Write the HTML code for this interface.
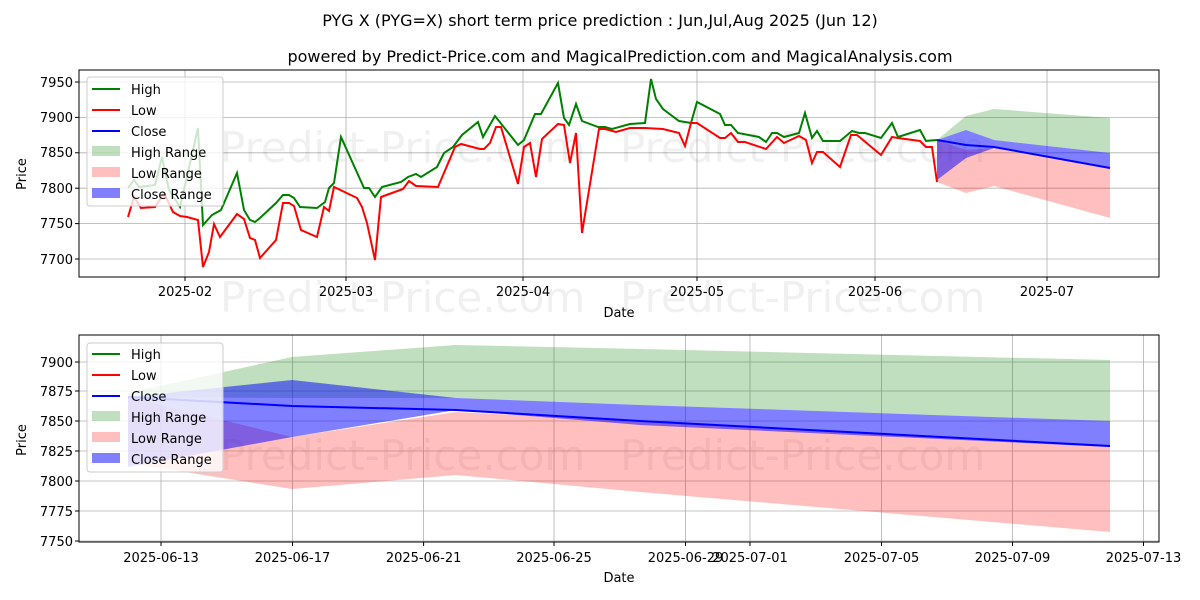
<!DOCTYPE html>
<html><head><meta charset="utf-8"><style>
html,body{margin:0;padding:0;background:#fff;}
svg{display:block;font-family:"DejaVu Sans","Liberation Sans",sans-serif;}
</style></head><body>
<svg width="1200" height="600" viewBox="0 0 1200 600" xmlns="http://www.w3.org/2000/svg">
<rect width="1200" height="600" fill="#fff"/>
<text x="600" y="26" font-size="16" text-anchor="middle">PYG X (PYG=X) short term price prediction : Jun,Jul,Aug 2025 (Jun 12)</text>
<text x="620" y="62" font-size="16" text-anchor="middle">powered by Predict-Price.com and MagicalPrediction.com and MagicalAnalysis.com</text>

<!-- TOP CHART -->
<g stroke="#b0b0b0" stroke-width="0.8">
<line x1="185" y1="70" x2="185" y2="277"/><line x1="346" y1="70" x2="346" y2="277"/><line x1="523" y1="70" x2="523" y2="277"/><line x1="697" y1="70" x2="697" y2="277"/><line x1="875" y1="70" x2="875" y2="277"/><line x1="1047" y1="70" x2="1047" y2="277"/>
<line x1="79" y1="82" x2="1159" y2="82"/><line x1="79" y1="117.4" x2="1159" y2="117.4"/><line x1="79" y1="152.8" x2="1159" y2="152.8"/><line x1="79" y1="188.2" x2="1159" y2="188.2"/><line x1="79" y1="223.6" x2="1159" y2="223.6"/><line x1="79" y1="259" x2="1159" y2="259"/>
</g>
<g fill="#000" fill-opacity="0.06" font-size="42">
<text x="220" y="162">Predict-Price.com</text><text x="620" y="162">Predict-Price.com</text>
<text x="220" y="312">Predict-Price.com</text><text x="620" y="312">Predict-Price.com</text>
<text x="220" y="470">Predict-Price.com</text><text x="620" y="470">Predict-Price.com</text>
</g>
<polyline fill="none" stroke="#008000" stroke-width="2" points="128,188 134,180 139,187 155,185 162,157 169,190 180,207 198,128 203,225 212,215 221,210 237,173 244,210 250,220 255,222 260,218 276,203 283,195 289,195 294,198 300,207 317,208 325,202 329,188 334,183 341,137 364,188 369,188 375,197 382,187 401,182 408,177 416,174 421,177 437,167 444,153 453,147 462,135 478,122 483,137 495,116 518,145 524,140 535,114 541,114 558,83 564,118 569,125 576,104 582,121 598,127 605,127 612,129 630,124 645,123 651,79 656,99 663,109 679,121 691,123 697,102 720,114 725,125 731,125 738,133 759,137 766,142 772,133 777,133 784,137 799,133 805,113 812,138 817,131 823,141 840,141 852,131 859,133 865,133 881,138 892,123 898,137 920,130 926,141 937,140"/>
<polyline fill="none" stroke="#ff0000" stroke-width="2" points="128,217 134,197 141,208 155,207 164,193 173,212 180,216 187,217 198,220 203,267 209,252 214,224 220,237 237,214 244,219 250,238 255,240 260,258 276,240 283,203 289,203 294,206 301,230 317,237 324,207 329,211 334,187 357,198 362,207 367,223 375,260 381,197 403,189 409,181 416,186 438,187 455,147 461,144 480,149 484,149 490,143 496,127 501,127 518,184 524,147 530,143 536,177 542,139 558,124 564,125 570,163 576,133 582,233 599,129 605,129 616,132 630,128 645,128 663,129 679,133 685,146 691,123 697,123 720,138 725,138 731,133 738,142 745,142 766,149 777,137 784,143 799,136 806,140 812,163 817,152 823,152 840,167 851,135 857,135 881,155 892,137 898,138 920,141 926,147 932,147 937,182"/>
<polygon fill="#008000" fill-opacity="0.25" points="937,140 966,116 994,109 1110,118 1110,153 994,140 966,130"/>
<polygon fill="#ff0000" fill-opacity="0.25" points="937,140 966,150 994,148 1110,168 1110,218 994,186 966,193 937,182"/>
<polygon fill="#0000ff" fill-opacity="0.5" points="937,140 966,130 994,140 1110,153 1110,168 994,148 966,158 937,180"/>
<polyline fill="none" stroke="#0000ff" stroke-width="2" points="937,140 966,145 994,147 1110,168"/>
<rect x="79" y="70" width="1080" height="207" fill="none" stroke="#000" stroke-width="1"/>
<g font-size="13" text-anchor="end">
<text x="73" y="87">7950</text><text x="73" y="122">7900</text><text x="73" y="157">7850</text><text x="73" y="193">7800</text><text x="73" y="228">7750</text><text x="73" y="264">7700</text>
</g>
<g stroke="#000"><line x1="75" y1="82" x2="79" y2="82"/><line x1="75" y1="117.4" x2="79" y2="117.4"/><line x1="75" y1="152.8" x2="79" y2="152.8"/><line x1="75" y1="188.2" x2="79" y2="188.2"/><line x1="75" y1="223.6" x2="79" y2="223.6"/><line x1="75" y1="259" x2="79" y2="259"/>
<line x1="185" y1="277" x2="185" y2="281"/><line x1="346" y1="277" x2="346" y2="281"/><line x1="523" y1="277" x2="523" y2="281"/><line x1="697" y1="277" x2="697" y2="281"/><line x1="875" y1="277" x2="875" y2="281"/><line x1="1047" y1="277" x2="1047" y2="281"/></g>
<g font-size="13" text-anchor="middle">
<text x="185" y="296">2025-02</text><text x="346" y="296">2025-03</text><text x="523" y="296">2025-04</text><text x="697" y="296">2025-05</text><text x="875" y="296">2025-06</text><text x="1047" y="296">2025-07</text>
<text x="619" y="317">Date</text>
</g>
<text font-size="13" text-anchor="middle" transform="translate(26,174) rotate(-90)">Price</text>
<g>
<rect x="87" y="77" width="136" height="129" rx="3" fill="#fff" fill-opacity="0.8" stroke="#ccc"/>
<line x1="92" y1="89" x2="120" y2="89" stroke="#008000" stroke-width="2"/>
<line x1="92" y1="110" x2="120" y2="110" stroke="#ff0000" stroke-width="2"/>
<line x1="92" y1="131" x2="120" y2="131" stroke="#0000ff" stroke-width="2"/>
<rect x="92" y="146" width="28" height="10" fill="#008000" fill-opacity="0.25"/>
<rect x="92" y="167" width="28" height="10" fill="#ff0000" fill-opacity="0.25"/>
<rect x="92" y="188" width="28" height="10" fill="#0000ff" fill-opacity="0.5"/>
<g font-size="13"><text x="131" y="94">High</text><text x="131" y="115">Low</text><text x="131" y="136">Close</text><text x="131" y="157">High Range</text><text x="131" y="178">Low Range</text><text x="131" y="199">Close Range</text></g>
</g>

<!-- BOTTOM CHART -->
<g stroke="#b0b0b0" stroke-width="0.8">
<line x1="161" y1="335" x2="161" y2="542"/><line x1="292.5" y1="335" x2="292.5" y2="542"/><line x1="423.6" y1="335" x2="423.6" y2="542"/><line x1="554" y1="335" x2="554" y2="542"/><line x1="685.5" y1="335" x2="685.5" y2="542"/><line x1="750" y1="335" x2="750" y2="542"/><line x1="881.5" y1="335" x2="881.5" y2="542"/><line x1="1012.5" y1="335" x2="1012.5" y2="542"/><line x1="1143.5" y1="335" x2="1143.5" y2="542"/>
<line x1="79" y1="362" x2="1159" y2="362"/><line x1="79" y1="391" x2="1159" y2="391"/><line x1="79" y1="421" x2="1159" y2="421"/><line x1="79" y1="451" x2="1159" y2="451"/><line x1="79" y1="481" x2="1159" y2="481"/><line x1="79" y1="511" x2="1159" y2="511"/><line x1="79" y1="541" x2="1159" y2="541"/>
</g>
<polygon fill="#008000" fill-opacity="0.25" points="128,393 292,357 456,345 640,349 1110,360 1110,421 640,405 456,398 292,398 128,397"/>
<polygon fill="#ff0000" fill-opacity="0.25" points="128,397 292,437 456,412 640,421 1110,447 1110,532 640,492 456,475 292,489 128,463"/>
<polygon fill="#0000ff" fill-opacity="0.5" points="128,397 292,380 456,398 640,405 1110,421 1110,447 640,425 456,410 292,437 128,467"/>
<polyline fill="none" stroke="#0000ff" stroke-width="2" points="128,397 292,406 456,410 640,421 1110,446"/>
<rect x="79" y="335" width="1080" height="207" fill="none" stroke="#000" stroke-width="1"/>
<g font-size="13" text-anchor="end">
<text x="73" y="367">7900</text><text x="73" y="396">7875</text><text x="73" y="426">7850</text><text x="73" y="456">7825</text><text x="73" y="486">7800</text><text x="73" y="516">7775</text><text x="73" y="546">7750</text>
</g>
<g stroke="#000"><line x1="75" y1="362" x2="79" y2="362"/><line x1="75" y1="391" x2="79" y2="391"/><line x1="75" y1="421" x2="79" y2="421"/><line x1="75" y1="451" x2="79" y2="451"/><line x1="75" y1="481" x2="79" y2="481"/><line x1="75" y1="511" x2="79" y2="511"/><line x1="75" y1="541" x2="79" y2="541"/>
<line x1="161" y1="542" x2="161" y2="546"/><line x1="292.5" y1="542" x2="292.5" y2="546"/><line x1="423.6" y1="542" x2="423.6" y2="546"/><line x1="554" y1="542" x2="554" y2="546"/><line x1="685.5" y1="542" x2="685.5" y2="546"/><line x1="750" y1="542" x2="750" y2="546"/><line x1="881.5" y1="542" x2="881.5" y2="546"/><line x1="1012.5" y1="542" x2="1012.5" y2="546"/><line x1="1143.5" y1="542" x2="1143.5" y2="546"/></g>
<g font-size="13" text-anchor="middle">
<text x="161" y="562">2025-06-13</text><text x="292.5" y="562">2025-06-17</text><text x="423.6" y="562">2025-06-21</text><text x="554" y="562">2025-06-25</text><text x="685.5" y="562">2025-06-29</text><text x="750" y="562">2025-07-01</text><text x="881.5" y="562">2025-07-05</text><text x="1012.5" y="562">2025-07-09</text><text x="1143.5" y="562">2025-07-13</text>
<text x="619" y="582">Date</text>
</g>
<text font-size="13" text-anchor="middle" transform="translate(26,440) rotate(-90)">Price</text>
<g>
<rect x="87" y="343" width="136" height="129" rx="3" fill="#fff" fill-opacity="0.8" stroke="#ccc"/>
<line x1="92" y1="354" x2="120" y2="354" stroke="#008000" stroke-width="2"/>
<line x1="92" y1="375" x2="120" y2="375" stroke="#ff0000" stroke-width="2"/>
<line x1="92" y1="396" x2="120" y2="396" stroke="#0000ff" stroke-width="2"/>
<rect x="92" y="411" width="28" height="10" fill="#008000" fill-opacity="0.25"/>
<rect x="92" y="432" width="28" height="10" fill="#ff0000" fill-opacity="0.25"/>
<rect x="92" y="453" width="28" height="10" fill="#0000ff" fill-opacity="0.5"/>
<g font-size="13"><text x="131" y="359">High</text><text x="131" y="380">Low</text><text x="131" y="401">Close</text><text x="131" y="422">High Range</text><text x="131" y="443">Low Range</text><text x="131" y="464">Close Range</text></g>
</g>
</svg>
</body></html>
